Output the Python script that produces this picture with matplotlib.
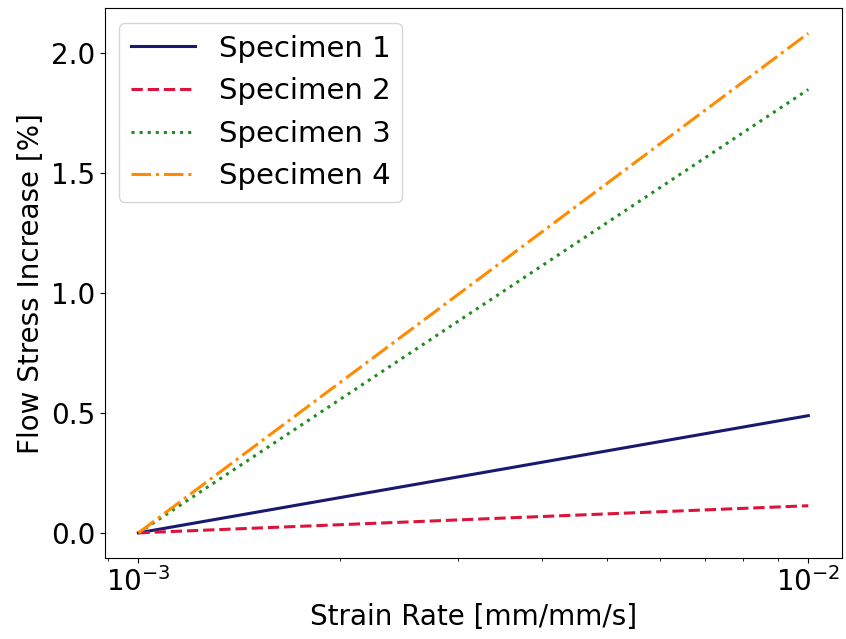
import numpy as np
import matplotlib.pyplot as plt

# Strain rates (mm/mm/s) and flow stress increase (%) relative to the reference rate
strain_rate = [1e-3, 1e-2]
specimen_1 = [0.0, 0.488]
specimen_2 = [0.0, 0.113]
specimen_3 = [0.0, 1.846]
specimen_4 = [0.0, 2.08]

plt.rcParams['font.size'] = 20

fig, ax = plt.subplots(figsize=(8.46, 6.39), dpi=100)
ax.plot(strain_rate, specimen_1, color='midnightblue', linestyle='-', linewidth=2.2, label='Specimen 1')
ax.plot(strain_rate, specimen_2, color='crimson', linestyle='--', linewidth=2.2, label='Specimen 2')
ax.plot(strain_rate, specimen_3, color='forestgreen', linestyle=':', linewidth=2.2, label='Specimen 3')
ax.plot(strain_rate, specimen_4, color='darkorange', linestyle='-.', linewidth=2.2, label='Specimen 4')

ax.set_xscale('log')
ax.set_xlabel('Strain Rate [mm/mm/s]')
ax.set_ylabel('Flow Stress Increase [%]')
ax.legend(loc='upper left', fontsize=21, labelspacing=0.5, handlelength=2.2)

fig.subplots_adjust(left=0.124, right=0.995, top=0.987, bottom=0.127)
fig.savefig('out.png')
